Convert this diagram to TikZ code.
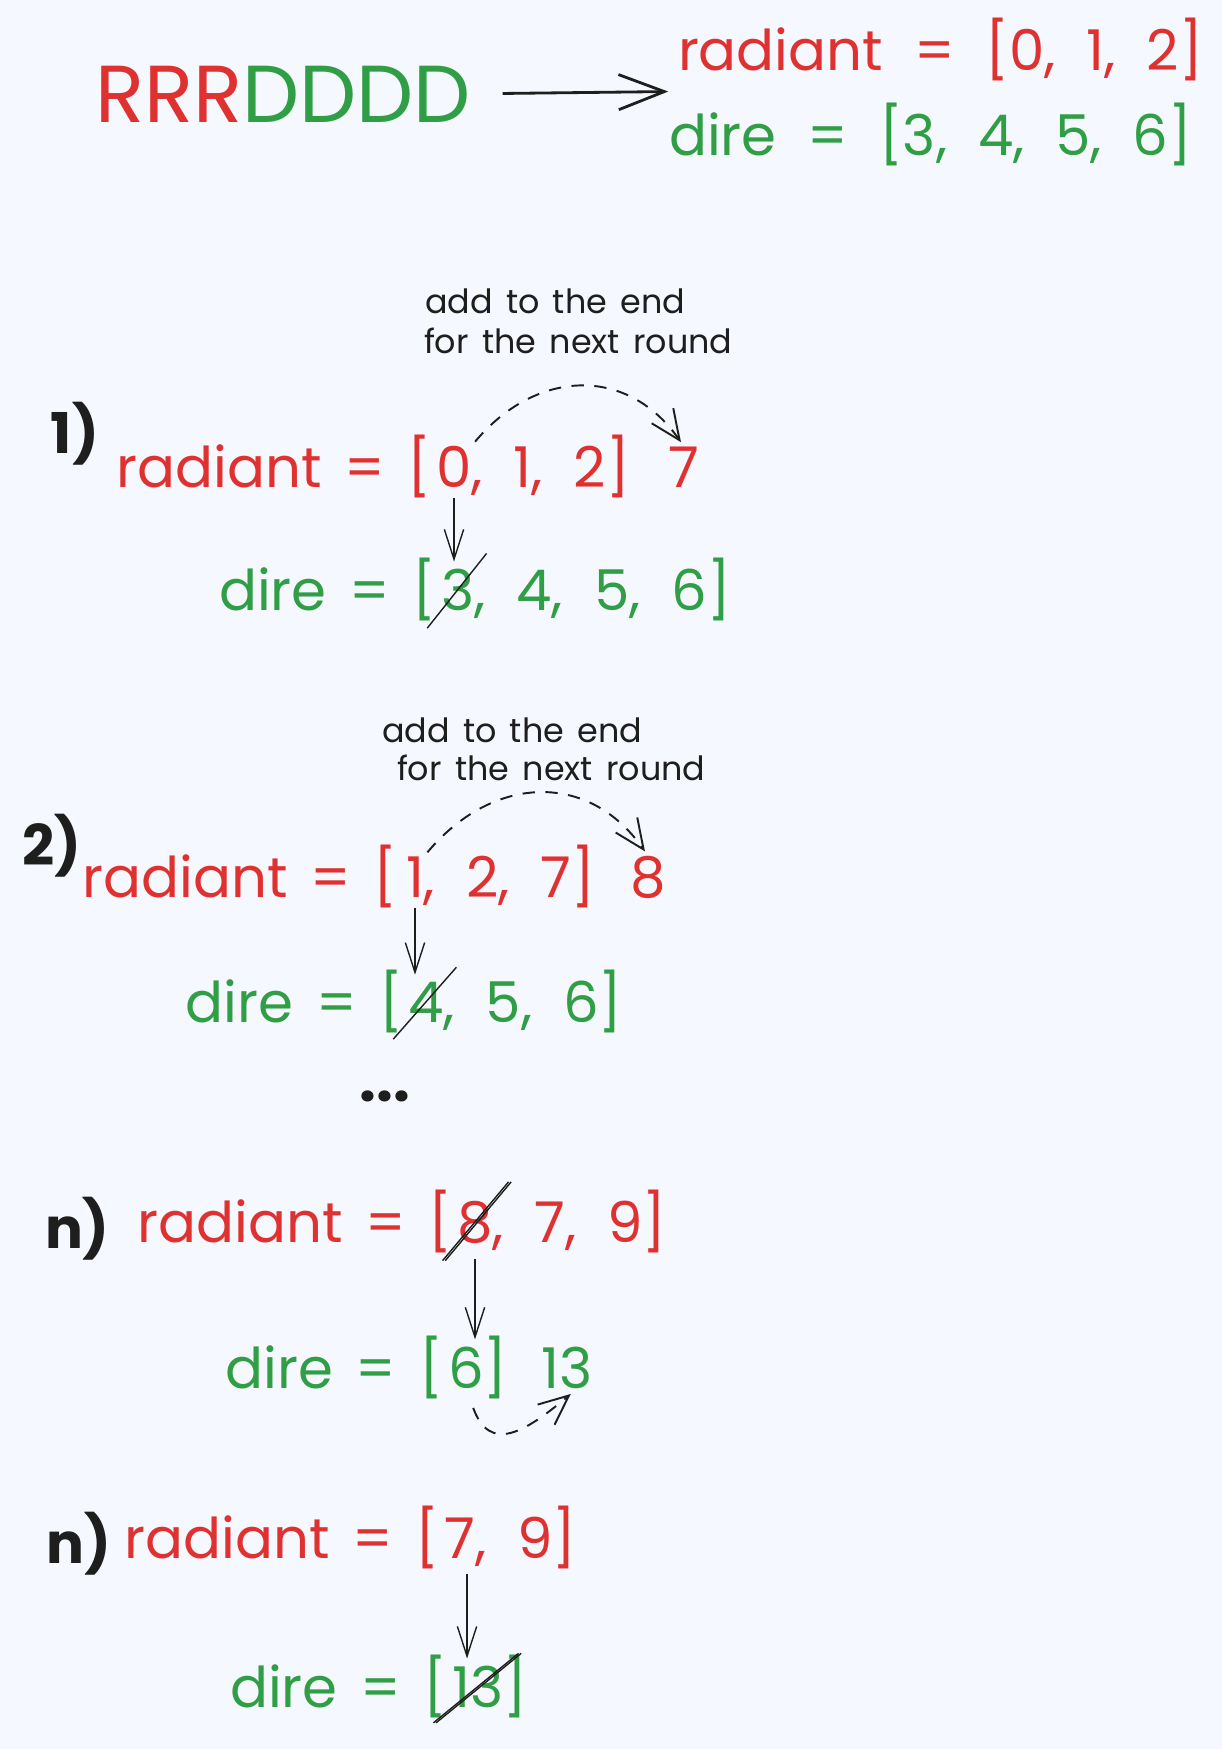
\documentclass[tikz,border=0pt]{standalone}
\usepackage{fontspec}
\setmainfont{Poppins}
\usetikzlibrary{arrows.meta,positioning,calc}
\definecolor{exred}{HTML}{E03131}
\definecolor{exgreen}{HTML}{2F9E44}
\definecolor{exink}{HTML}{1E1E1E}
\definecolor{paper}{HTML}{F5F8FE}
\newcommand\widegap{\spaceskip=0.55em\relax}
\newcommand\tightgap{\spaceskip=0.4em\relax}
\newcommand\notegap{\spaceskip=0.4em\relax}

\begin{document}
\begin{tikzpicture}[x=0.02cm,y=-0.02cm,
  every node/.style={inner sep=0pt,outer sep=0pt},
  redtxt/.style={exred,font=\fontsize{32}{40}\selectfont\widegap},
  greentxt/.style={exgreen,font=\fontsize{32}{40}\selectfont\widegap},
  redlhs/.style={exred,font=\fontsize{32}{40}\selectfont\tightgap,anchor=base east},
  greenlhs/.style={exgreen,font=\fontsize{32}{40}\selectfont\tightgap,anchor=base east},
  note/.style={exink,font=\fontsize{19}{22}\selectfont\notegap,anchor=base west},
  stepno/.style={exink,font=\fontsize{32}{38}\selectfont\bfseries,anchor=base west},
  split/.style={exink,line width=1.6pt,-{Straight Barb[length=26pt,width=20pt]}},
  push/.style={exink,line width=0.8pt,-{Straight Barb[length=17pt,width=11pt]}},
  wrap/.style={exink,line width=1.1pt,dash pattern=on 7pt off 6pt,-{Straight Barb[length=17pt,width=15pt]}},
  strike/.style={exink,line width=0.8pt}]

  % page
  \fill[paper] (0,0) rectangle (1222,1749);

  % =====================================================================
  % TOP: split the senate string into two queues
  % =====================================================================
  \node[font=\fontsize{46}{50}\selectfont,anchor=base west] (votes) at (95,122)
        {\textcolor{exred}{RRR}\textcolor{exgreen}{DDDD}};
  \node[redtxt,anchor=base west] (rad0) at (678,70) {radiant = [0, 1, 2]};
  \node[greentxt,anchor=base west] (dire0) at (669,155) {dire = [3, 4, 5, 6]};
  \coordinate (splitend) at ($(rad0.south west)!0.5!(dire0.north west)$);
  \draw[split,shorten <=18pt,shorten >=3pt] (votes.east) -- (splitend);

  % =====================================================================
  % ROUND 1: radiant 0 bans dire 3
  % =====================================================================
  \node[note] (hint1a) at (425,313) {add to the end};
  \node[note] (hint1b) at (424,353) {for the next round};
  \node[stepno] (step1) at (51,453) {1)};

  \node[redtxt,anchor=base] (r1a) at (454,487) {0};
  \node[redlhs] (r1l) at (r1a.base west) {radiant = [\kern3pt};
  \node[redtxt,anchor=base west] (r1r) at (r1a.base east) {, 1, 2]};
  \node[redtxt,anchor=base] (r1n) at (684,487) {7};

  \node[greentxt,anchor=base] (d1a) at (458,610) {3};
  \node[greenlhs] (d1l) at (d1a.base west) {dire = [\kern3pt};
  \node[greentxt,anchor=base west] (d1r) at (d1a.base east) {, 4, 5, 6]};

  \draw[wrap,shorten <=3pt,shorten >=3pt] (r1a.north east) to[out=50,in=125,looseness=1.2] (r1n.north);
  \draw[push,shorten <=6pt,shorten >=4pt] (r1a.south) -- (r1a.south |- d1a.north);
  \draw[strike,shorten <=-13pt,shorten >=-11pt] (d1a.south west) -- (d1a.north east);

  % =====================================================================
  % ROUND 2: radiant 1 bans dire 4
  % =====================================================================
  \node[note] (hint2a) at (382,742) {add to the end};
  \node[note] (hint2b) at (397,780) {for the next round};
  \node[stepno] (step2) at (22,865) {2)};

  \node[redtxt,anchor=base] (r2a) at (415,897) {1};
  \node[redlhs] (r2l) at (r2a.base west) {radiant = [\kern5pt};
  \node[redtxt,anchor=base west] (r2r) at (r2a.base east) {, 2, 7]};
  \node[redtxt,anchor=base] (r2n) at (648,897) {8};

  \node[greentxt,anchor=base] (d2a) at (426,1022) {4};
  \node[greenlhs] (d2l) at (d2a.base west) {dire = [\kern3pt};
  \node[greentxt,anchor=base west] (d2r) at (d2a.base east) {, 5, 6]};

  \draw[wrap,shorten <=3pt,shorten >=3pt] (r2a.north east) to[out=50,in=125,looseness=1.2] (r2n.north);
  \draw[push,shorten <=6pt,shorten >=4pt] (r2a.south) -- (r2a.south |- d2a.north);
  \draw[strike,shorten <=-13pt,shorten >=-11pt] (d2a.south west) -- (d2a.north east);

  \node[exink,font=\fontsize{34}{40}\selectfont\bfseries] (dots) at (385,1096) {...};

  % =====================================================================
  % ROUND n: dire 6 bans radiant 8
  % =====================================================================
  \node[stepno] (step3) at (45,1248) {n)};

  \node[redtxt,anchor=base] (r3a) at (475,1242) {8};
  \node[redlhs] (r3l) at (r3a.base west) {radiant = [\kern3pt};
  \node[redtxt,anchor=base west] (r3r) at (r3a.base east) {, 7, 9]};

  \node[greentxt,anchor=base] (d3a) at (466,1388) {6};
  \node[greenlhs] (d3l) at (d3a.base west) {dire = [\kern3pt};
  \node[greentxt,anchor=base west] (d3r) at (d3a.base east) {]};
  \node[greentxt,anchor=base] (d3n) at (567,1388) {13};

  \draw[strike,shorten <=-13pt,shorten >=-14pt] (r3a.south west) -- (r3a.north east);
  \draw[strike,shorten <=-13pt,shorten >=-14pt] ([xshift=1.5pt]r3a.south west) -- ([xshift=1.5pt]r3a.north east);
  \draw[push,shorten <=9pt,shorten >=4pt] (r3a.south) -- (r3a.south |- d3a.north);
  \draw[wrap,shorten <=12pt,shorten >=5pt] (d3a.south) to[out=-70,in=-140,looseness=1.6] ([xshift=6pt]d3n.south);

  % =====================================================================
  % ROUND n: radiant 7 bans dire 13
  % =====================================================================
  \node[stepno] (step4) at (47,1563) {n)};

  \node[redtxt,anchor=base] (r4a) at (460,1558) {7};
  \node[redlhs] (r4l) at (r4a.base west) {radiant = [\kern3pt};
  \node[redtxt,anchor=base west] (r4r) at (r4a.base east) {, 9]};

  \node[greentxt,anchor=base] (d4a) at (478,1707) {13};
  \node[greenlhs] (d4l) at (d4a.base west) {dire = [\kern3pt};
  \node[greentxt,anchor=base west] (d4r) at (d4a.base east) {]};

  \draw[push,shorten <=9pt,shorten >=4pt] ([xshift=4pt]r4a.south) -- ([xshift=4pt]r4a.south |- d4a.north);
  \draw[strike,shorten <=-14pt,shorten >=-11pt] (d4a.south west) -- (d4a.north east);
  \draw[strike,shorten <=-14pt,shorten >=-11pt] ([xshift=1.5pt]d4a.south west) -- ([xshift=1.5pt]d4a.north east);

\end{tikzpicture}
\end{document}
